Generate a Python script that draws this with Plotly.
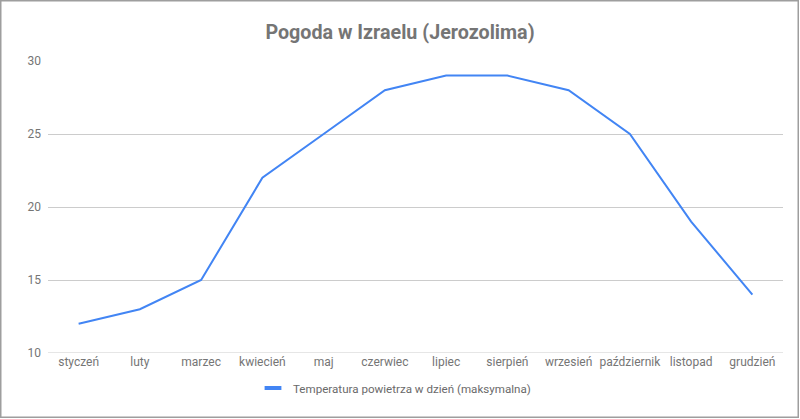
import plotly.graph_objects as go

months = ["styczeń", "luty", "marzec", "kwiecień", "maj", "czerwiec", "lipiec",
          "sierpień", "wrzesień", "październik", "listopad", "grudzień"]
temps = [12, 13, 15, 22, 25, 28, 29, 29, 28, 25, 19, 14]
series_name = "Temperatura powietrza w dzień (maksymalna)"
title_text = "Pogoda w Izraelu (Jerozolima)"
y_ticks = [10, 15, 20, 25, 30]

blue = "#4285F4"
grid = "#cccccc"
W, H = 800, 419
ml, mr, mt, mb = 48, 17, 61, 66
pw, ph = W - ml - mr, H - mt - mb

fig = go.Figure()
fig.add_trace(go.Scatter(x=months, y=temps, mode="lines",
                         line=dict(color=blue, width=2), showlegend=False,
                         hoverinfo="x+y"))
fig.add_trace(go.Scatter(x=[None], y=[None], mode="markers", name=series_name,
                         marker=dict(symbol="line-ew", size=12, color=blue,
                                     line=dict(color=blue, width=4))))

fig.update_layout(
    width=W, height=H,
    margin=dict(l=ml, r=mr, t=mt, b=mb),
    paper_bgcolor="white", plot_bgcolor="white",
    font=dict(family="Roboto, Arial, sans-serif", size=12, color="#757575"),
    title=dict(text="<b>" + title_text + "</b>", x=0.5, xanchor="center",
               y=1 - 32 / H, yanchor="middle",
               font=dict(size=19.7, color="#757575", family="Roboto, Arial, sans-serif")),
    xaxis=dict(type="category", range=[-0.5, 11.5], showgrid=False,
               showline=False, ticks="", tickfont=dict(size=12, color="#757575"),
               fixedrange=True),
    yaxis=dict(range=[10, 30], tickvals=y_ticks, showgrid=True,
               gridcolor=grid, gridwidth=1, zeroline=False, showline=False,
               ticks="", ticklabelstandoff=6, tickfont=dict(size=12, color="#757575"),
               fixedrange=True),
    legend=dict(orientation="h", x=0.5 - 21 / pw, xanchor="center", y=-(388 - 353) / ph,
                yanchor="middle", font=dict(size=11.6, color="#6a6a6a"),
                itemwidth=30),
    showlegend=True,
)

# baseline gridline at the bottom of the range
fig.add_shape(type="line", xref="paper", yref="y", x0=0, x1=1, y0=10, y1=10,
              line=dict(color=grid, width=1), layer="below")

# outer border of the chart image
fig.add_shape(type="rect", xref="paper", yref="paper",
              x0=-(ml - 0.75) / pw, x1=1 + (mr - 1.75) / pw,
              y0=-(mb - 1.75) / ph, y1=1 + (mt - 0.75) / ph,
              line=dict(color="#9e9e9e", width=1.5), layer="above")

fig.write_html("out.html", config={"displayModeBar": False},
               post_script="document.body.style.margin='0';")
